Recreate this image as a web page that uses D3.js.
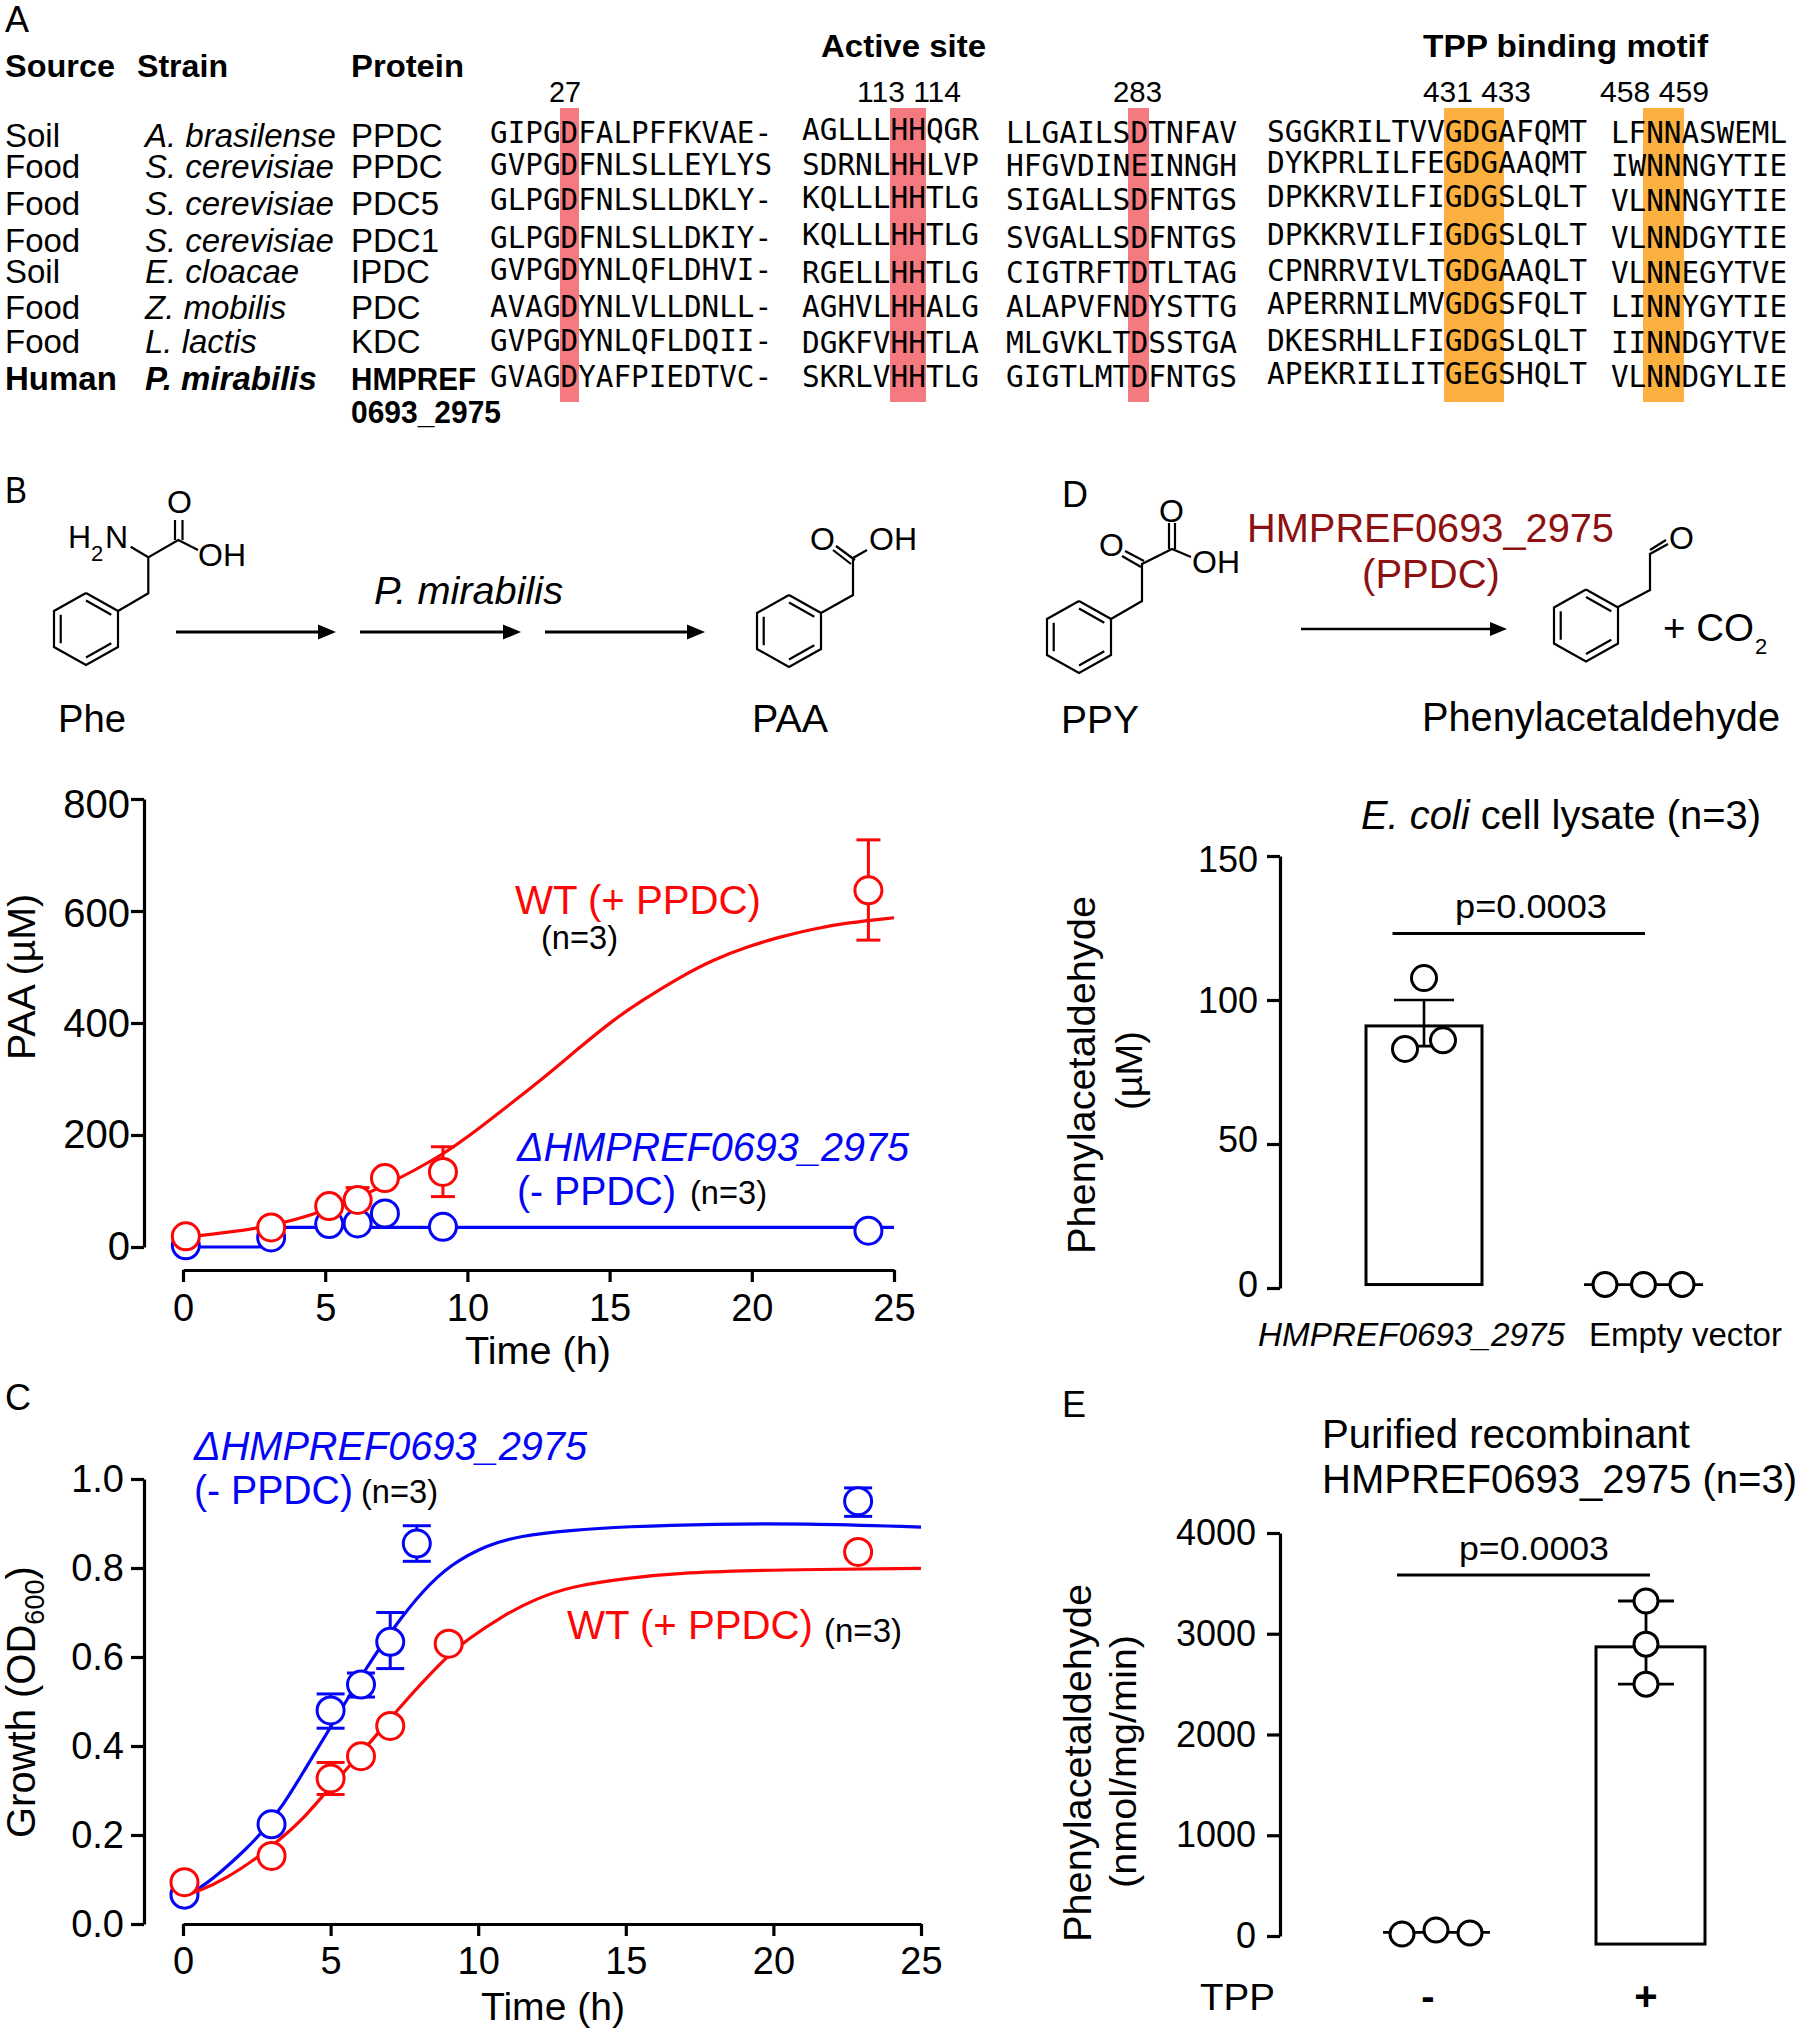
<!DOCTYPE html>
<html><head><meta charset="utf-8">
<style>html,body{margin:0;padding:0;background:#fff}svg{display:block}
text{font-family:"Liberation Sans",Arial,sans-serif;fill:#000}</style>
<script src="https://cdnjs.cloudflare.com/ajax/libs/d3/7.8.5/d3.min.js"></script>
</head><body><script>
// ---------- data ----------
const sources=["Soil","Food","Food","Food","Soil","Food","Food","Human"];
const strains=["A. brasilense","S. cerevisiae","S. cerevisiae","S. cerevisiae","E. cloacae","Z. mobilis","L. lactis","P. mirabilis"];
const proteins=["PPDC","PPDC","PDC5","PDC1","IPDC","PDC","KDC","HMPREF"];
const seqBlock1=["GIPGDFALPFFKVAE-","GVPGDFNLSLLEYLYS","GLPGDFNLSLLDKLY-","GLPGDFNLSLLDKIY-","GVPGDYNLQFLDHVI-","AVAGDYNLVLLDNLL-","GVPGDYNLQFLDQII-","GVAGDYAFPIEDTVC-"];
const seqBlock2=["AGLLLHHQGR","SDRNLHHLVP","KQLLLHHTLG","KQLLLHHTLG","RGELLHHTLG","AGHVLHHALG","DGKFVHHTLA","SKRLVHHTLG"];
const seqBlock3=["LLGAILSDTNFAV","HFGVDINEINNGH","SIGALLSDFNTGS","SVGALLSDFNTGS","CIGTRFTDTLTAG","ALAPVFNDYSTTG","MLGVKLTDSSTGA","GIGTLMTDFNTGS"];
const seqBlock4=["SGGKRILTVVGDGAFQMT","DYKPRLILFEGDGAAQMT","DPKKRVILFIGDGSLQLT","DPKKRVILFIGDGSLQLT","CPNRRVIVLTGDGAAQLT","APERRNILMVGDGSFQLT","DKESRHLLFIGDGSLQLT","APEKRIILITGEGSHQLT"];
const seqBlock5=["LFNNASWEML","IWNNNGYTIE","VLNNNGYTIE","VLNNDGYTIE","VLNNEGYTVE","LINNYGYTIE","IINNDGYTVE","VLNNDGYLIE"];

const paaTime=[0.1,3.1,5.14,6.14,7.1,9.14,24.1];
const paaWT=[19,35,73,84,123,134,637];
const paaWTLo=[19,35,73,70,123,90,548];
const paaWTHi=[19,35,73,106,123,179,727];
const paaKO=[3,17,41,42,60,36,29];
const paaWTCurveT=[0,3,5,7,9.15,10.44,11.6,12.8,13.96,15.12,16.07,17.47,18.64,19.83,21,22.15,23.35,25];
const paaWTCurveV=[17,34,64,106,164,213,259,307,357,405,438,482,513,536,554,568,579,588];
const paaKOCurveT=[0,2.7,3.5,25];
const paaKOCurveV=[0,0,35,35];

const odTimeKO=[0.05,3,5,6.03,7.02,7.92,22.87];
const odKO=[0.066,0.224,0.48,0.538,0.634,0.855,0.95];
const odKOLo=[0.066,0.224,0.44,0.51,0.574,0.815,0.916];
const odKOHi=[0.066,0.224,0.517,0.564,0.70,0.895,0.98];
const odTimeWT=[0.05,3,5,6.03,7.02,9,22.87];
const odWT=[0.094,0.153,0.327,0.377,0.445,0.63,0.836];
const odWTLo=[0.094,0.153,0.291,0.377,0.445,0.63,0.836];
const odWTHi=[0.094,0.153,0.363,0.377,0.445,0.63,0.836];
const odKOCurveT=[0,0.41,1.25,2.16,2.6,3.4,4.08,4.98,6.22,7.24,8.14,9.04,10.29,11.4,13.1,15,18,21,25];
const odKOCurveV=[0.066,0.0726,0.114,0.17,0.2,0.267,0.342,0.44,0.578,0.676,0.75,0.807,0.852,0.872,0.885,0.893,0.899,0.9,0.892];
const odWTCurveT=[0,0.51,1.48,2.5,3.4,4.19,4.75,6.33,7.24,8.8,9.6,10.85,12,13.1,15,17,20,25];
const odWTCurveV=[0.064,0.0726,0.103,0.148,0.196,0.245,0.29,0.406,0.48,0.593,0.638,0.694,0.732,0.758,0.777,0.79,0.796,0.799];

const lysateCats=["HMPREF0693_2975","Empty vector"];
const lysateMean=[91,1.2];
const lysateBase=1.2;
const lysateErrLo=84, lysateErrHi=100;
const lysateDots1=[83,107.6,86];
const lysateDots2=[1.2,1.2,1.2];
const lysateP="p=0.0003";

const tppCats=["-","+"];
const tppMean=[35,2870];
const tppBase=-80;
const tppErrLo=2500, tppErrHi=3325;
const tppDots1=[20,60,30];
const tppDots2=[3325,2897,2500];
const tppP="p=0.0003";

const RED="#fb0707", BLUE="#0505f5", PINK="#f57a80", ORANGE="#fbb040", DRED="#8e1111";

// ---------- helpers ----------
const svg=d3.select("body").append("svg").attr("width",1800).attr("height",2033);
const zip=(a,b)=>a.map((d,i)=>[d,b[i]]);
function txt(x,y,s,o={}){
  const t=svg.append("text").attr("x",x).attr("y",y).text(s)
    .attr("font-size",o.size||38)
    .attr("font-weight",o.weight||null).attr("font-style",o.style||null)
    .attr("text-anchor",o.anchor||"start").style("fill",o.fill||"#000");
  if(o.family)t.style("font-family",o.family);
  if(o.width)t.attr("textLength",o.width).attr("lengthAdjust","spacingAndGlyphs");
  if(o.rot)t.attr("transform",`rotate(${o.rot} ${x} ${y})`);
  return t;
}
function poly(pts,w=2.2,c="#000"){
  svg.append("path").attr("d",d3.line()(pts)).attr("fill","none").attr("stroke",c).attr("stroke-width",w);
}
function benzene(cx,cy){
  const hw=32,v=36,sh=18,k=.79;
  const P=[[cx,cy-v],[cx+hw,cy-sh],[cx+hw,cy+sh],[cx,cy+v],[cx-hw,cy+sh],[cx-hw,cy-sh],[cx,cy-v]];
  poly(P);
  const q=p=>[cx+(p[0]-cx)*k,cy+(p[1]-cy)*k];
  [[0,1],[2,3],[4,5]].forEach(([a,b])=>poly([q(P[a]),q(P[b])]));
}
function arrow(x1,x2,y,w=3.2,len=18,h=7.5){
  poly([[x1,y],[x2-len+2,y]],w);
  svg.append("path").attr("d",d3.line()([[x2-len,y-h],[x2,y],[x2-len,y+h]])).attr("fill","#000");
}
function yAxis(scale,x,ticks,pad,size,fmt,shift){
  const g=svg.append("g").attr("transform",`translate(${x},0)`)
    .call(d3.axisLeft(scale).tickValues(ticks).tickSize(13).tickSizeOuter(0).tickPadding(pad).tickFormat(fmt||(d=>d)));
  g.selectAll("text").attr("font-size",size).style("font-family",'"Liberation Sans",Arial,sans-serif');
  if(shift)g.selectAll("text").attr("y",(d,i)=>shift[i]);
  g.selectAll("path,line").attr("stroke","#000").attr("stroke-width",3.2);
}
function xAxis(scale,y,ticks,pad,size){
  const g=svg.append("g").attr("transform",`translate(0,${y})`)
    .call(d3.axisBottom(scale).tickValues(ticks).tickSize(12).tickSizeOuter(0).tickPadding(pad));
  g.selectAll("text").attr("font-size",size).style("font-family",'"Liberation Sans",Arial,sans-serif');
  g.selectAll("path,line").attr("stroke","#000").attr("stroke-width",3.2);
}
function series(xs,ys,T,V,LO,HI,curveT,curveV,color,cap,curve){
  const line=d3.line().x(d=>xs(d[0])).y(d=>ys(d[1])).curve(curve||d3.curveBasis);
  svg.append("path").attr("d",line(zip(curveT,curveV))).attr("fill","none").attr("stroke",color).attr("stroke-width",3.2);
  T.forEach((t,i)=>{
    if(HI[i]===LO[i])return;
    const x=xs(t);
    svg.append("line").attr("x1",x).attr("x2",x).attr("y1",ys(LO[i])).attr("y2",ys(HI[i])).attr("stroke",color).attr("stroke-width",3);
    [LO[i],HI[i]].forEach(v=>svg.append("line").attr("x1",x-cap).attr("x2",x+cap).attr("y1",ys(v)).attr("y2",ys(v)).attr("stroke",color).attr("stroke-width",3));
  });
  T.forEach((t,i)=>svg.append("circle").attr("cx",xs(t)).attr("cy",ys(V[i])).attr("r",13.5).attr("fill","#fff").attr("stroke",color).attr("stroke-width",3));
}

// ---------- Panel A ----------
txt(5,32,"A",{size:36,width:24});
txt(5,77,"Source",{size:32,weight:700,width:110});
txt(137,77,"Strain",{size:32,weight:700,width:91});
txt(351,77,"Protein",{size:32,weight:700,width:113});
txt(821,57,"Active site",{size:32,weight:700,width:165});
txt(1423,57,"TPP binding motif",{size:32,weight:700,width:285});
[["27",549,32],["113 114",857,104],["283",1113,49],["431 433",1423,108],["458 459",1600,109]]
  .forEach(d=>txt(d[1],102,d[0],{size:30,width:d[2]}));
[[560,579,PINK],[890,926,PINK],[1128,1149,PINK],[1444,1504,ORANGE],[1643,1684,ORANGE]].forEach(d=>
  svg.append("rect").attr("x",d[0]).attr("width",d[1]-d[0]).attr("y",108).attr("height",294).attr("fill",d[2]));
const rowY=[147,178,215,252,283,319,353,390];
sources.forEach((s,i)=>txt(5,rowY[i],s,{size:33,weight:i==7?700:null}));
strains.forEach((s,i)=>txt(145,rowY[i],s,{size:33,style:"italic",weight:i==7?700:null}));
proteins.forEach((s,i)=>{ if(i==7) txt(351,rowY[i],s,{size:31,weight:700,width:125}); else txt(351,rowY[i],s,{size:33}); });
txt(351,423,"0693_2975",{size:31,weight:700,width:150});
const seqBlocks=[
 [seqBlock1,490,282,[143,175,210,248,280,317,351,387]],
 [seqBlock2,802,177,[140,175,208,245,283,317,353,387]],
 [seqBlock3,1006,231,[143,176,210,248,283,317,353,387]],
 [seqBlock4,1267,320,[142,173,207,245,281,314,351,384]],
 [seqBlock5,1611,176,[143,176,211,248,283,317,353,387]]];
seqBlocks.forEach(([rows,x,w,ys])=>rows.forEach((s,i)=>
  txt(x,ys[i],s,{size:30,width:w,family:'"DejaVu Sans Mono",monospace'})));

// ---------- Panel B scheme ----------
txt(5,503,"B",{size:36,width:22});
benzene(86,629);
poly([[118,611],[148.3,593.3],[148.3,557.3],[178.3,540],[198,550]]);
poly([[148.3,557.3],[130.7,546.7]]);
poly([[175,540],[175,520]]);poly([[182.5,540],[182.5,520]]);
txt(68,548,"H",{size:32});txt(91,561,"2",{size:22});txt(105,548,"N",{size:32});
txt(167,513,"O",{size:32});txt(198,566,"OH",{size:32});
arrow(176,336,632);arrow(360,521,632);arrow(545,705,632);
txt(374,604,"P. mirabilis",{size:38,style:"italic",width:189});
txt(58,732,"Phe",{size:38,width:68});
txt(752,732,"PAA",{size:38,width:76});
benzene(789,631);
poly([[821,613],[853,595],[853,558],[867,550]]);
poly([[855,560],[836,546]]);poly([[851,564],[833,550]]);
txt(810,550,"O",{size:32});txt(869,550,"OH",{size:32});

// ---------- Panel B chart ----------
const bX=d3.scaleLinear().domain([0,25]).range([183,894]);
const bY=d3.scaleLinear().domain([0,800]).range([1247,799]);
yAxis(bY,144,[0,200,400,600,800],1,40,null,[0,0,1,3,6]);
xAxis(bX,1270,[0,5,10,15,20,25],12,38);
series(bX,bY,paaTime,paaKO,paaKO,paaKO,paaKOCurveT,paaKOCurveV,BLUE,12,d3.curveMonotoneX);
series(bX,bY,paaTime,paaWT,paaWTLo,paaWTHi,paaWTCurveT,paaWTCurveV,RED,12);
txt(465,1364,"Time (h)",{size:39,width:146});
txt(35,1060,"PAA (\u00b5M)",{size:38,rot:-90,width:166});
txt(515,914,"WT (+ PPDC)",{size:40,fill:RED,width:246});
txt(541,949,"(n=3)",{size:33,width:77});
txt(517,1161,"\u0394HMPREF0693_2975",{size:40,fill:BLUE,style:"italic",width:392});
txt(517,1205,"(- PPDC)",{size:40,fill:BLUE,width:159});
txt(690,1204,"(n=3)",{size:33,width:77});

// ---------- Panel C chart ----------
txt(5,1410,"C",{size:36,width:26});
const cX=d3.scaleLinear().domain([0,25]).range([183,921]);
const cY=d3.scaleLinear().domain([0,1]).range([1924,1479]);
yAxis(cY,144,[0,.2,.4,.6,.8,1],7,38,d3.format(".1f"));
xAxis(cX,1924,[0,5,10,15,20,25],11,38);
series(cX,cY,odTimeKO,odKO,odKOLo,odKOHi,odKOCurveT,odKOCurveV,BLUE,14);
series(cX,cY,odTimeWT,odWT,odWTLo,odWTHi,odWTCurveT,odWTCurveV,RED,14);
txt(481,2020,"Time (h)",{size:39,width:144});
const cyl=txt(35,1838,"Growth (OD",{size:40,rot:-90});
cyl.append("tspan").text("600").attr("font-size",27).attr("dy",9);
cyl.append("tspan").text(")").attr("dy",-9);
txt(194,1460,"\u0394HMPREF0693_2975",{size:40,fill:BLUE,style:"italic",width:393});
txt(194,1504,"(- PPDC)",{size:40,fill:BLUE,width:159});
txt(361,1503,"(n=3)",{size:33,width:77});
txt(567,1639,"WT (+ PPDC)",{size:40,fill:RED,width:246});
txt(824,1642,"(n=3)",{size:33,width:78});

// ---------- Panel D scheme ----------
txt(1062,507,"D",{size:36,width:26});
benzene(1079,637);
poly([[1111,619],[1142,601],[1142,564],[1172,549],[1191,557]]);
poly([[1144,561],[1125,551]]);poly([[1141,567],[1122,556]]);
poly([[1169,549],[1169,523]]);poly([[1175,549],[1175,523]]);
txt(1099,556,"O",{size:32});txt(1159,522,"O",{size:32});txt(1192,573,"OH",{size:32});
txt(1247,542,"HMPREF0693_2975",{size:40,fill:DRED,width:367});
txt(1431,588,"(PPDC)",{size:40,fill:DRED,anchor:"middle"});
arrow(1301,1507,629,2.6,17,7);
benzene(1586,625.5);
poly([[1618,607],[1650,590],[1650,554],[1668,544]]);poly([[1650,550],[1666,540]]);
txt(1669,549,"O",{size:32});
txt(1663,641,"+ CO",{size:38,width:91});txt(1755,654,"2",{size:22});
txt(1061,733,"PPY",{size:38,width:78});
txt(1422,731,"Phenylacetaldehyde",{size:40,width:358});

// ---------- Panel D chart ----------
const dY=d3.scaleLinear().domain([0,150]).range([1288,856]);
yAxis(dY,1280,[0,50,100,150],9,36,null,[-3,-4,1,4]);
const dt=txt(1361,829,"",{size:40,width:400});
dt.append("tspan").text("E. coli").attr("font-style","italic");dt.append("tspan").text(" cell lysate (n=3)");
const barD={x:1366,w:116};
svg.append("rect").attr("x",barD.x).attr("width",barD.w).attr("y",dY(lysateMean[0])).attr("height",dY(lysateBase)-dY(lysateMean[0]))
  .attr("fill","#fff").attr("stroke","#000").attr("stroke-width",3);
const cD=barD.x+barD.w/2;
svg.append("line").attr("x1",cD).attr("x2",cD).attr("y1",dY(lysateErrLo)).attr("y2",dY(lysateErrHi)).attr("stroke","#000").attr("stroke-width",2.6);
[lysateErrLo,lysateErrHi].forEach(v=>svg.append("line").attr("x1",cD-30).attr("x2",cD+30).attr("y1",dY(v)).attr("y2",dY(v)).attr("stroke","#000").attr("stroke-width",2.6));
[-19,0,19].forEach((o,i)=>svg.append("circle").attr("cx",cD+o).attr("cy",dY(lysateDots1[i])).attr("r",12.5).attr("fill","#fff").attr("stroke","#000").attr("stroke-width",3));
svg.append("line").attr("x1",1584).attr("x2",1703).attr("y1",dY(lysateDots2[0])).attr("y2",dY(lysateDots2[0])).attr("stroke","#000").attr("stroke-width",2.8);
[-38.5,0,38.5].forEach((o,i)=>svg.append("circle").attr("cx",1643.5+o).attr("cy",dY(lysateDots2[i])).attr("r",12).attr("fill","#fff").attr("stroke","#000").attr("stroke-width",3));
poly([[1392.5,933.5],[1645,933.5]],2.8);
txt(1455,918,lysateP,{size:34,width:152});
txt(1258,1346,lysateCats[0],{size:33,style:"italic",width:307});
txt(1589,1346,lysateCats[1],{size:33,width:193});
txt(1095,1254,"Phenylacetaldehyde",{size:39,rot:-90,width:358});
txt(1142,1110,"(\u00b5M)",{size:36,rot:-90,width:79});

// ---------- Panel E chart ----------
txt(1062,1417,"E",{size:36,width:24});
txt(1322,1448,"Purified recombinant",{size:40,width:368});
txt(1322,1493,"HMPREF0693_2975 (n=3)",{size:40,width:475});
const eY=d3.scaleLinear().domain([0,4000]).range([1936,1533]);
yAxis(eY,1280,[0,1000,2000,3000,4000],11,36);
svg.append("rect").attr("x",1596).attr("width",109).attr("y",eY(tppMean[1])).attr("height",eY(tppBase)-eY(tppMean[1]))
  .attr("fill","#fff").attr("stroke","#000").attr("stroke-width",3);
const cE=1646;
svg.append("line").attr("x1",cE).attr("x2",cE).attr("y1",eY(tppErrLo)).attr("y2",eY(tppErrHi)).attr("stroke","#000").attr("stroke-width",2.8);
[tppErrLo,tppErrHi].forEach(v=>svg.append("line").attr("x1",cE-28).attr("x2",cE+28).attr("y1",eY(v)).attr("y2",eY(v)).attr("stroke","#000").attr("stroke-width",2.8));
tppDots2.forEach(v=>svg.append("circle").attr("cx",cE).attr("cy",eY(v)).attr("r",12).attr("fill","#fff").attr("stroke","#000").attr("stroke-width",3));
svg.append("line").attr("x1",1383).attr("x2",1490).attr("y1",eY(tppMean[0])).attr("y2",eY(tppMean[0])).attr("stroke","#000").attr("stroke-width",2.8);
[-34,0,34].forEach((o,i)=>svg.append("circle").attr("cx",1436+o).attr("cy",eY(tppDots1[i])).attr("r",12).attr("fill","#fff").attr("stroke","#000").attr("stroke-width",3));
poly([[1397,1575],[1650,1575]],2.8);
txt(1459,1560,tppP,{size:34,width:150});
txt(1200,2010,"TPP",{size:37,width:75});
txt(1428,2010,tppCats[0],{size:40,weight:900,anchor:"middle"});
txt(1646,2010,tppCats[1],{size:40,weight:900,anchor:"middle"});
txt(1091,1942,"Phenylacetaldehyde",{size:39,rot:-90,width:358});
txt(1136,1888,"(nmol/mg/min)",{size:37,rot:-90,width:253});
</script></body></html>
